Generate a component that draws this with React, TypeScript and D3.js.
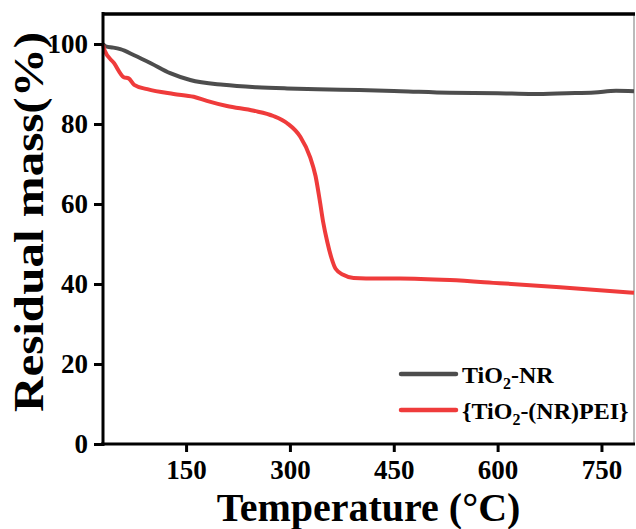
import React, { useRef, useEffect } from "react";
import * as d3 from "d3";

// Curva TGA: TiO2-NR
const tempNR = [30, 34, 45, 55, 75, 99, 127, 156, 204, 252, 296, 340, 400, 460, 531, 600, 651, 700, 740, 771, 797];
const massNR = [100, 99.4, 99.1, 98.7, 97.2, 95.2, 92.7, 91, 89.8, 89.2, 88.9, 88.7, 88.5, 88.2, 87.8, 87.7, 87.5, 87.7, 87.9, 88.3, 88.2];

// Curva TGA: {TiO2-(NR)PEI}
const tempPEI = [30, 32, 46, 60, 67, 75, 94, 132, 161, 180, 209, 248, 276, 296, 315, 329, 337, 343, 348, 354, 360, 366, 377, 392, 410, 459, 531, 603, 690, 797];
const massPEI = [99.8, 98.5, 95.2, 91.7, 91.4, 89.8, 88.7, 87.5, 86.8, 85.8, 84.5, 83.3, 82, 80.2, 76.8, 71.8, 67, 61, 55.5, 50.5, 46.5, 43.8, 42.3, 41.5, 41.4, 41.4, 41, 40.2, 39.2, 37.8];

const xMajor = [150, 300, 450, 600, 750];
const xMinor = [75, 225, 375, 525, 675];
const yMajor = [0, 20, 40, 60, 80, 100];
const yMinor = [10, 30, 50, 70, 90];

const series = [
  { name: "TiO2-NR", temp: tempNR, mass: massNR, color: "#4d4d4d" },
  { name: "{TiO2-(NR)PEI}", temp: tempPEI, mass: massPEI, color: "#ef3b3b" },
];

const FONT = "Liberation Serif, Times New Roman, serif";

const App = () => {
  const ref = useRef<SVGSVGElement>(null);
  const width = 636;
  const height = 529;

  useEffect(() => {
    const container = ref.current;
    if (!container) return;
    d3.select(container).selectChildren().remove();

    const margin = { top: 14, right: 2, bottom: 85, left: 103 };
    const x = d3.scaleLinear().domain([30, 797]).range([margin.left, width - margin.right]);
    const y = d3.scaleLinear().domain([0, 107.5]).range([height - margin.bottom, margin.top]);

    const svg = d3
      .select(container)
      .append("g")
      .style("font-family", FONT)
      .style("font-weight", "bold");

    // Marco
    svg
      .append("line")
      .attr("x1", x.range()[1]).attr("x2", x.range()[1])
      .attr("y1", y.range()[1]).attr("y2", y.range()[0])
      .attr("stroke", "#777").attr("stroke-width", 1);
    svg
      .append("line")
      .attr("x1", x.range()[0]).attr("x2", x.range()[1] + 1)
      .attr("y1", y.range()[1]).attr("y2", y.range()[1])
      .attr("stroke", "#000").attr("stroke-width", 3.5);

    // Curvas
    const line = d3
      .line<[number, number]>()
      .x((d) => x(d[0]))
      .y((d) => y(d[1]))
      .curve(d3.curveMonotoneX);

    series.forEach((s) => {
      svg
        .append("path")
        .attr("d", line(s.temp.map((t, i) => [t, s.mass[i]] as [number, number])))
        .attr("fill", "none")
        .attr("stroke", s.color)
        .attr("stroke-width", 4)
        .attr("stroke-linejoin", "round");
    });

    // Eje X
    const gx = svg.append("g").attr("transform", `translate(0, ${y(0)})`);
    gx.call(d3.axisBottom(x).tickValues(xMinor).tickSize(5).tickFormat(() => ""));
    gx.call(d3.axisBottom(x).tickValues(xMajor).tickSize(8).tickPadding(8).tickFormat(d3.format("d")));
    gx.selectAll(".domain").remove();
    gx.append("line")
      .attr("x1", x.range()[0] - 2).attr("x2", x.range()[1] + 1)
      .attr("stroke", "#000").attr("stroke-width", 3.5);
    gx.selectAll("line").attr("stroke", "#000").attr("stroke-width", 3);
    gx.selectAll("text")
      .attr("fill", "#000")
      .style("font-family", FONT)
      .style("font-weight", "bold")
      .style("font-size", "27px");

    // Eje Y
    const gy = svg.append("g").attr("transform", `translate(${x(30)}, 0)`);
    gy.call(d3.axisLeft(y).tickValues(yMinor).tickSize(5).tickFormat(() => ""));
    gy.call(d3.axisLeft(y).tickValues(yMajor).tickSize(9).tickPadding(6).tickFormat(d3.format("d")));
    gy.selectAll(".domain").remove();
    gy.append("line")
      .attr("y1", y.range()[1] - 2).attr("y2", y(0) + 2)
      .attr("stroke", "#000").attr("stroke-width", 3.5);
    gy.selectAll("line").attr("stroke", "#000").attr("stroke-width", 3);
    gy.selectAll("text")
      .attr("fill", "#000")
      .style("font-family", FONT)
      .style("font-weight", "bold")
      .style("font-size", "27px");

    // Títulos de ejes
    svg
      .append("text")
      .attr("x", (x.range()[0] + x.range()[1]) / 2)
      .attr("y", 521)
      .attr("text-anchor", "middle")
      .style("font-size", "40px")
      .text("Temperature (°C)");

    svg
      .append("text")
      .attr("transform", `translate(43, 222) rotate(-90)`)
      .attr("text-anchor", "middle")
      .attr("textLength", 380)
      .attr("lengthAdjust", "spacingAndGlyphs")
      .style("font-size", "43px")
      .text("Residual mass(%)");

    // Leyenda
    const legend = svg.append("g");
    const labels = [
      ["TiO", "2", "-NR"],
      ["{TiO", "2", "-(NR)PEI}"],
    ];
    series.forEach((s, i) => {
      const ly = 374 + i * 36;
      legend
        .append("line")
        .attr("x1", 401).attr("x2", 456)
        .attr("y1", ly).attr("y2", ly)
        .attr("stroke", s.color)
        .attr("stroke-width", 4.5)
        .attr("stroke-linecap", "round");
      const t = legend
        .append("text")
        .attr("x", 462)
        .attr("y", ly + 9)
        .style("font-size", "24px");
      t.append("tspan").text(labels[i][0]);
      t.append("tspan").attr("dy", 6).style("font-size", "16px").text(labels[i][1]);
      t.append("tspan").attr("dy", -6).text(labels[i][2]);
    });
  }, []);

  return (
    <svg
      ref={ref}
      width={width}
      height={height}
      style={{ position: "absolute", left: 0, top: 0, display: "block", background: "#fff" }}
    />
  );
};

export default App;
